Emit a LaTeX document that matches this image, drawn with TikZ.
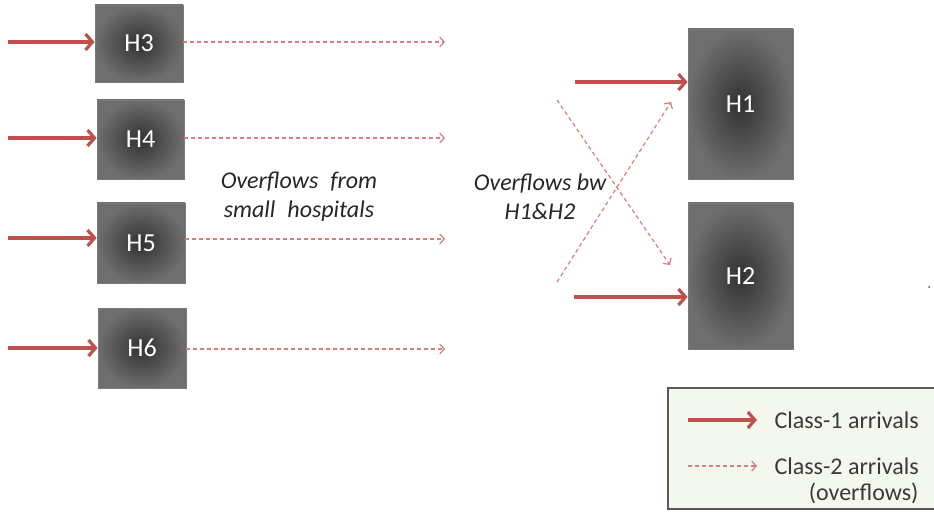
\documentclass[tikz,border=0pt]{standalone}
\usepackage{fontspec}
\setmainfont{Carlito}
\usetikzlibrary{arrows.meta}
\definecolor{arrred}{HTML}{C0504D}
\definecolor{ovfred}{HTML}{D47F7C}
\definecolor{boxedge}{HTML}{7A7A7A}
\definecolor{legfill}{HTML}{F3F7EE}
\definecolor{legedge}{HTML}{595959}
\definecolor{txtgray}{HTML}{3A3A3A}
\definecolor{txtdark}{HTML}{262626}
\tikzset{
  hosp/.style={draw=boxedge, line width=0.8pt, inner color={rgb,255:red,50;green,50;blue,50},
    outer color={rgb,255:red,110;green,110;blue,110}, text=white,
    font=\fontsize{26}{28}\selectfont, inner sep=0pt},
  class1/.style={draw=arrred, line width=3.2pt,
    -{Straight Barb[length=7pt,width=16pt,line width=3.2pt]}},
  class2/.style={draw=ovfred, line width=1.2pt, dash pattern=on 4pt off 3pt,
    -{Straight Barb[length=4.5pt,width=10pt,line width=1.2pt]}},
  label/.style={font=\fontsize{24}{29}\selectfont\itshape, text=txtdark, align=center},
  legtext/.style={font=\fontsize{24}{28}\selectfont, text=txtgray}
}
\begin{document}
\begin{tikzpicture}[x=1pt,y=-1pt]
  \useasboundingbox (0,0) rectangle (934,513);
  \clip (0,0) rectangle (934,513);

  % small hospitals
  \node[hosp, minimum width=88pt, minimum height=77pt] (h3) at (139,43.5) {H3};
  \node[hosp, minimum width=87pt, minimum height=79pt] (h4) at (140.5,139.5) {H4};
  \node[hosp, minimum width=88pt, minimum height=80pt] (h5) at (141,243) {H5};
  \node[hosp, minimum width=88pt, minimum height=80pt] (h6) at (142,348) {H6};

  % large hospitals
  \node[hosp, minimum width=105pt, minimum height=150pt] (h1) at (740.5,104) {H1};
  \node[hosp, minimum width=105pt, minimum height=146pt] (h2) at (740.5,276) {H2};

  % free ends of arrivals and overflows
  \coordinate (s3) at (8,42);
  \coordinate (s4) at (8,138);
  \coordinate (s5) at (8,238);
  \coordinate (s6) at (8,348);
  \coordinate (e3) at (445,42);
  \coordinate (e4) at (445,138);
  \coordinate (e5) at (445,239);
  \coordinate (e6) at (445,349);
  \coordinate (s1) at (575,82);
  \coordinate (s2) at (574,297);
  \coordinate (x1) at (557,100);
  \coordinate (y1) at (670,265);
  \coordinate (x2) at (557,282);
  \coordinate (y2) at (671,102);

  % class-1 arrivals
  \draw[class1] (s3) -- (s3 -| h3.west);
  \draw[class1] (s4) -- (s4 -| h4.west);
  \draw[class1] (s5) -- (s5 -| h5.west);
  \draw[class1] (s6) -- (s6 -| h6.west);
  \draw[class1] (s1) -- (s1 -| h1.west);
  \draw[class1] (s2) -- (s2 -| h2.west);

  % overflows from the small hospitals
  \draw[class2] (e3 -| h3.east) -- (e3);
  \draw[class2] (e4 -| h4.east) -- (e4);
  \draw[class2] (e5 -| h5.east) -- (e5);
  \draw[class2] (e6 -| h6.east) -- (e6);

  % overflows between H1 and H2
  \draw[class2] (x1) -- (y1);
  \draw[class2] (x2) -- (y2);

  \node[label] (lsmall) at (299,197) {Overflows\enspace from\\small\enspace hospitals};
  \node[label] (lbw) at (540,197) {Overflows bw\\H1\&H2};

  \fill[black!70] (929,287) circle (1pt);

  % legend
  \draw[legedge, line width=1.2pt, fill=legfill] (668,388) rectangle (950,509);
  \coordinate (la) at (688,420);
  \coordinate (lb) at (757,420);
  \coordinate (lc) at (688,466);
  \coordinate (ld) at (757,466);
  \draw[class1] (la) -- (lb);
  \draw[class2] (lc) -- (ld);
  \node[legtext, anchor=west] (t1) at (771,420) {Class-1 arrivals};
  \node[legtext, anchor=west] (t2) at (771,466) {Class-2 arrivals};
  \node[legtext, anchor=east] (t3) at (922,493) {(overflows)};
\end{tikzpicture}
\end{document}
